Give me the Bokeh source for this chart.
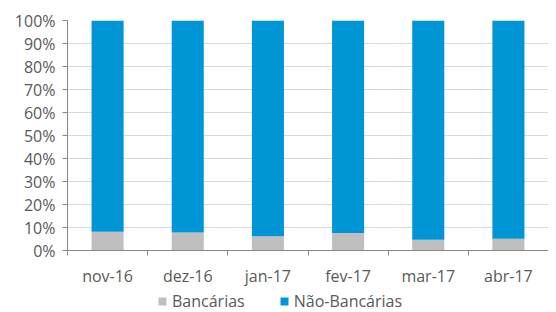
from bokeh.plotting import figure
from bokeh.layouts import column
from bokeh.models import (Range1d, FixedTicker, PrintfTickFormatter, Legend, LegendItem,
                          ColumnDataSource)
from bokeh.embed import file_html
from bokeh.resources import INLINE

categories = ["nov-16", "dez-16", "jan-17", "fev-17", "mar-17", "abr-17"]
bancarias = [8.1, 7.8, 6.2, 7.6, 4.7, 5.1]
nao_bancarias = [91.9, 92.2, 93.8, 92.4, 95.3, 94.9]
y_ticks = [0, 10, 20, 30, 40, 50, 60, 70, 80, 90, 100]
series_labels = ["Bancárias", "Não-Bancárias"]
series_colors = ["#BFBFBF", "#0096D6"]

FONT = "Open Sans"
TXT = "#595959"
AX = "#868686"
W = 548

xs = [i + 0.5 for i in range(len(categories))]
src = ColumnDataSource(dict(x=xs, Bancarias=bancarias, NaoBancarias=nao_bancarias))

p = figure(width=W, height=290, output_backend="svg", toolbar_location=None,
           x_range=Range1d(0, len(categories)), y_range=Range1d(0, 100),
           min_border_left=67, min_border_right=0, min_border_top=20, min_border_bottom=40)
p.outline_line_color = None
p.background_fill_color = "white"
p.border_fill_color = "white"

rs = p.vbar_stack(["Bancarias", "NaoBancarias"], x="x", width=0.4, source=src,
                  color=series_colors, line_color=None)

p.xgrid.grid_line_color = None
p.ygrid.grid_line_color = "#D9D9D9"
p.ygrid.ticker = FixedTicker(ticks=y_ticks)

# y axis
ya = p.yaxis[0]
ya.ticker = FixedTicker(ticks=y_ticks)
ya.formatter = PrintfTickFormatter(format="%d%%")
ya.axis_line_color = AX
ya.major_tick_line_color = AX
ya.major_tick_out = 5
ya.major_tick_in = 0
ya.minor_tick_line_color = None
ya.major_label_standoff = 7
ya.major_label_text_font = FONT
ya.major_label_text_font_size = "16px"
ya.major_label_text_color = TXT

# x axis
xa = p.xaxis[0]
xa.ticker = FixedTicker(ticks=xs, minor_ticks=list(range(len(categories) + 1)))
xa.major_label_overrides = {x: c for x, c in zip(xs, categories)}
xa.axis_line_color = AX
xa.major_tick_line_color = None
xa.major_tick_out = 0
xa.major_tick_in = 0
xa.minor_tick_line_color = AX
xa.minor_tick_out = 5
xa.minor_tick_in = 0
xa.major_label_standoff = 9
xa.major_label_text_font = FONT
xa.major_label_text_font_size = "16px"
xa.major_label_text_color = TXT

# legend figure below
lg = figure(width=W, height=22, output_backend="svg", toolbar_location=None,
            x_axis_type=None, y_axis_type=None, min_border=0,
            x_range=Range1d(0, 1), y_range=Range1d(0, 1))
lg.outline_line_color = None
lg.xgrid.grid_line_color = None
lg.ygrid.grid_line_color = None
dummy = ColumnDataSource(dict(x=[-5.0], top=[0.0]))
items = []
for lab, col in zip(series_labels, series_colors):
    r = lg.vbar(x="x", top="top", width=0.1, source=dummy, color=col, line_color=None)
    items.append(LegendItem(label=lab, renderers=[r]))
legend = Legend(items=items, orientation="horizontal", location=(90, 0),
                label_text_font=FONT, label_text_font_size="16px", label_text_color=TXT,
                glyph_width=10, glyph_height=10, spacing=34, padding=0, margin=0,
                border_line_color=None, background_fill_alpha=0, label_standoff=5)
lg.add_layout(legend, "center")

open("out.html", "w").write(file_html(column(p, lg, spacing=0), INLINE))
